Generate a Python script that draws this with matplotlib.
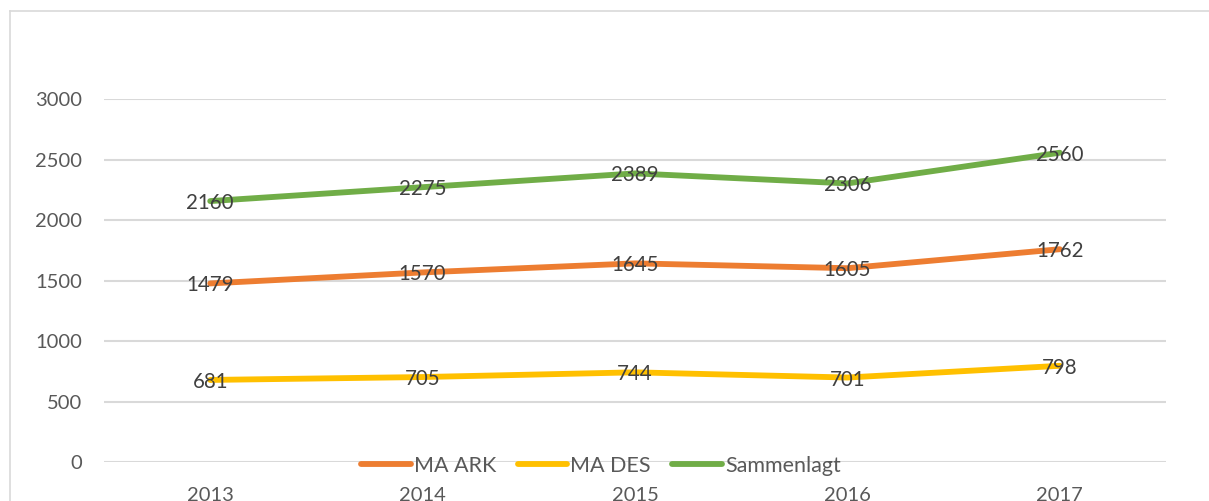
import matplotlib.pyplot as plt
from matplotlib.lines import Line2D

years = ['2013', '2014', '2015', '2016', '2017']
ma_ark = [1479, 1570, 1645, 1605, 1762]
ma_des = [681, 705, 744, 701, 798]
sammenlagt = [2160, 2275, 2389, 2306, 2560]

series = [('MA ARK', ma_ark, '#ED7D31'),
          ('MA DES', ma_des, '#FFC000'),
          ('Sammenlagt', sammenlagt, '#70AD47')]

plt.rcParams['font.family'] = ['Lato', 'DejaVu Sans']

fig = plt.figure(figsize=(12.09, 5.01), dpi=100)
ax = fig.add_axes([104 / 1209, 38.7 / 501, 1062 / 1209, 362.8 / 501])

x = list(range(len(years)))
for name, vals, col in series:
    ax.plot(x, vals, color=col, lw=4.2, solid_capstyle='round',
            solid_joinstyle='round', label=name, clip_on=False, zorder=3)
    for xi, v in zip(x, vals):
        ax.annotate(str(v), (xi, v), xytext=(0, -2), textcoords='offset pixels',
                    ha='center', va='center', fontsize=14.8,
                    color='#404040', zorder=4)

ax.set_xlim(-0.5, 4.5)
ax.set_ylim(0, 3000)
ax.set_yticks(range(0, 3001, 500))
ax.set_xticks(x)
ax.set_xticklabels(years)
ax.grid(axis='y', color='#D9D9D9', lw=1.5, zorder=0)
ax.tick_params(axis='both', length=0, labelsize=14.5, colors='#595959')
ax.tick_params(axis='y', pad=16)
ax.tick_params(axis='x', pad=17.5)
for s in ax.spines.values():
    s.set_visible(False)

handles = [Line2D([], [], color=c, lw=4.2, solid_capstyle='round') for _, _, c in series]
fig.legend(handles, [n for n, _, _ in series], loc='center',
           bbox_to_anchor=(601 / 1209, 35 / 501), ncol=3, frameon=False,
           fontsize=15.5, labelcolor='#595959', handlelength=2.3,
           handletextpad=0.15, columnspacing=1.0)

# chart border (top and left edges visible)
fig.add_artist(Line2D([10 / 1209, 1], [1 - 11 / 501, 1 - 11 / 501],
                      transform=fig.transFigure, color='#D9D9D9', lw=1.2))
fig.add_artist(Line2D([10 / 1209, 10 / 1209], [0, 1 - 11 / 501],
                      transform=fig.transFigure, color='#D9D9D9', lw=1.2))

fig.savefig('out.png', dpi=100)
